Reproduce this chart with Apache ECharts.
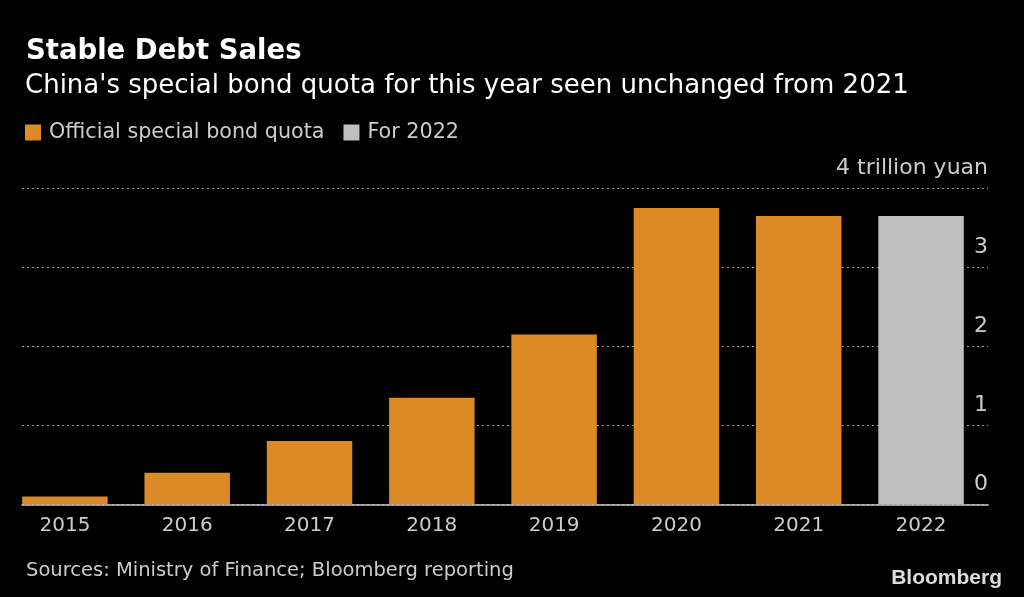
<!DOCTYPE html>
<html>
<head>
<meta charset="utf-8">
<script src="https://cdn.jsdelivr.net/npm/echarts@6/dist/echarts.min.js"></script>
<style>
  html, body { margin: 0; padding: 0; background: #000; }
  #chart { width: 1024px; height: 597px; }
</style>
</head>
<body>
<div id="chart"></div>
<script>
const years = ['2015', '2016', '2017', '2018', '2019', '2020', '2021', '2022'];
const officialQuota = [0.1, 0.4, 0.8, 1.35, 2.15, 3.75, 3.65, null];
const quota2022 = [null, null, null, null, null, null, null, 3.65];
const yTicks = [0, 1, 2, 3, 4];

const FONT = 'DejaVu Sans';
const ORANGE = '#DB8A26';
const GREY = '#BFBFBF';

const chart = echarts.init(document.getElementById('chart'));

chart.setOption({
  backgroundColor: '#000',
  animation: false,
  textStyle: { fontFamily: FONT },
  title: [
    { text: 'Stable Debt Sales', left: 21, top: 33,
      textStyle: { color: '#fff', fontSize: 27.5, fontWeight: 'bold', fontFamily: FONT } },
    { text: "China's special bond quota for this year seen unchanged from 2021", left: 20, top: 68,
      textStyle: { color: '#fff', fontSize: 26, fontWeight: 'normal', fontFamily: FONT } },
    { text: 'Sources: Ministry of Finance; Bloomberg reporting', left: 21, top: 556,
      textStyle: { color: '#ccc', fontSize: 19.5, fontWeight: 'normal', fontFamily: FONT } },
    { text: 'Bloomberg', right: 17, top: 563,
      textStyle: { color: '#ddd', fontSize: 21, fontWeight: 'bold', fontFamily: 'Liberation Sans' } }
  ],
  legend: {
    left: 20, top: 117,
    icon: 'rect', itemWidth: 16, itemHeight: 16, itemGap: 19,
    textStyle: { color: '#ccc', fontSize: 20.7, fontFamily: FONT, padding: [0, 0, 0, 3] },
    data: ['Official special bond quota', 'For 2022']
  },
  grid: [
    // bars
    { left: 3.75, right: 41.8, top: 188.3, bottom: 92.7 },
    // gridlines and value labels
    { left: 22, right: 36, top: 188.3, bottom: 92.7 }
  ],
  xAxis: [
    { type: 'category', gridIndex: 0, data: years,
      axisLine: { show: false }, axisTick: { show: false },
      axisLabel: { color: '#ccc', fontSize: 20, margin: 11, fontFamily: FONT } },
    { type: 'value', gridIndex: 1, min: 0, max: 1,
      axisLine: { show: true, onZero: false, lineStyle: { color: '#ccc', width: 1.5 } },
      axisTick: { show: false }, axisLabel: { show: false }, splitLine: { show: false } }
  ],
  yAxis: [
    { type: 'value', gridIndex: 0, min: 0, max: 4, interval: 1,
      axisLine: { show: false }, axisTick: { show: false },
      axisLabel: { show: false }, splitLine: { show: false } },
    { type: 'value', gridIndex: 1, position: 'right', min: 0, max: 4, interval: 1,
      axisLine: { show: false }, axisTick: { show: false },
      splitLine: { show: true, lineStyle: { color: '#999', type: [2, 3], width: 1 } },
      axisLabel: {
        inside: true, margin: 0, color: '#ccc', fontSize: 22, fontFamily: FONT,
        verticalAlign: 'bottom', padding: [0, 0, 9, 0],
        formatter: v => yTicks.includes(v) ? (v === 4 ? '4 trillion yuan' : String(v)) : ''
      } }
  ],
  series: [
    { name: 'Official special bond quota', type: 'bar', xAxisIndex: 0, yAxisIndex: 0,
      data: officialQuota, barWidth: 85.5, barGap: '-100%',
      itemStyle: { color: ORANGE } },
    { name: 'For 2022', type: 'bar', xAxisIndex: 0, yAxisIndex: 0,
      data: quota2022, barWidth: 85.5, barGap: '-100%',
      itemStyle: { color: GREY } }
  ]
});
</script>
</body>
</html>
